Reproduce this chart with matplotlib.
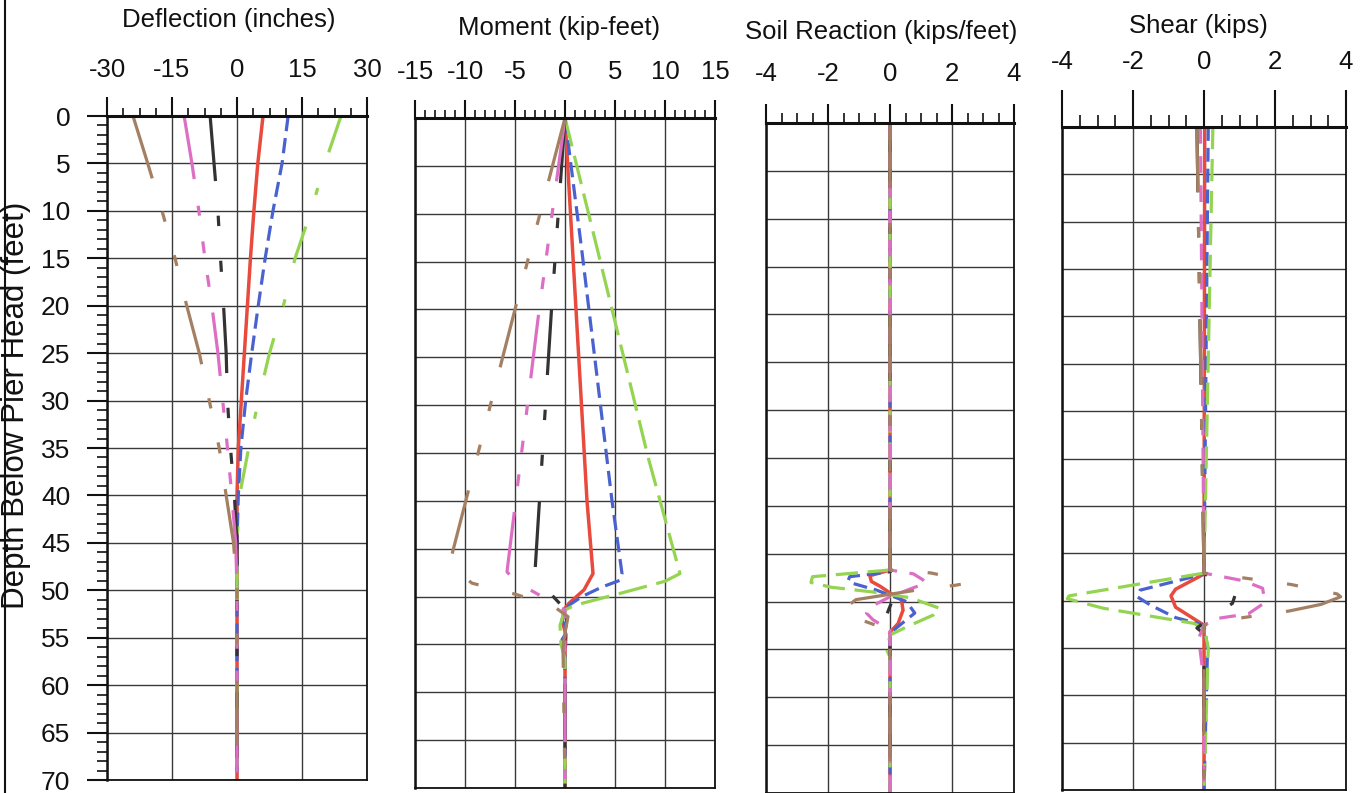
import matplotlib
matplotlib.use('Agg')
import matplotlib.pyplot as plt
from matplotlib.lines import Line2D
from matplotlib.ticker import MultipleLocator

plt.rcParams['font.family'] = ['Liberation Sans', 'DejaVu Sans']
plt.rcParams['axes.unicode_minus'] = False
plt.rcParams['lines.scale_dashes'] = False

W, H = 1367, 793

# Deflection (inches) vs depth (feet)
defl_depth = [0, 5, 10, 15, 20, 25, 30, 35, 40, 45, 50, 70]
defl_red = [6.0, 4.8, 3.9, 3.1, 2.4, 1.7, 1.0, 0.3, 0, 0, 0, 0]
defl_blue = [11.8, 10.4, 8.3, 6.5, 4.9, 3.4, 2.0, 0.9, 0.3, 0, 0, 0]
defl_green = [24.0, 20.3, 17.1, 13.4, 10.7, 7.5, 4.9, 2.7, 0.6, 0, 0, 0]
defl_black = [-6.2, -5.3, -4.4, -3.8, -3.1, -2.5, -2.2, -1.5, -0.6, 0, 0, 0]
defl_pink = [-12.2, -10.4, -8.8, -7.4, -5.8, -4.4, -3.3, -2.2, -1.2, -0.3, 0, 0]
defl_brown = [-24.0, -20.6, -17.3, -14.3, -11.6, -8.7, -6.4, -4.1, -2.5, -0.8, 0, 0]

# Moment (kip-feet)
mom_red_depth = [0, 20, 40, 47.6, 49.3, 50.7, 51.2, 52.5, 54.0, 56.0, 70]
mom_red = [0, 1.1, 2.2, 2.8, 1.9, 0.4, 0, -0.3, 0.1, 0, 0]
mom_blue_depth = [0, 14, 40, 47.6, 48.3, 49.0, 50.0, 50.9, 52.5, 53.5, 54.5, 56.0, 70]
mom_blue = [0, 1.7, 4.7, 5.7, 5.5, 3.7, 1.7, 0.4, -0.3, 0.3, -0.3, 0, 0]
mom_green_depth = [0, 14, 35.4, 47.6, 48.4, 49.7, 50.9, 51.4, 53.0, 55.0, 56.5, 70]
mom_green = [0, 3.3, 8.3, 11.5, 10.0, 5.4, 1.0, 0, -0.5, -0.4, 0, 0]
mom_black_depth = [0, 20, 47.4, 48.6, 50.2, 51.2, 53.0, 70]
mom_black = [0, -1.35, -3.0, -2.4, -1.0, -0.1, 0, 0]
mom_pink_depth = [0, 21, 47.4, 48.4, 50.0, 51.4, 53.0, 70]
mom_pink = [0, -2.7, -5.8, -5.0, -2.3, 0, 0, 0]
mom_brown_depth = [0, 20, 46.0, 47.4, 48.6, 49.8, 51.2, 52.1, 53.8, 55.3, 70]
mom_brown = [0, -5.0, -11.4, -10.8, -9.3, -4.8, -0.9, 0.3, 0, -0.2, 0]

# Soil reaction (kips/feet)
soil_red_depth = [0, 46.7, 47.3, 47.9, 48.4, 49.1, 49.8, 50.9, 52.3, 53.2, 70]
soil_red = [0, 0, -0.65, -0.6, -0.32, 0, 0.37, 0.42, 0.26, 0, 0]
soil_blue_depth = [0, 46.9, 47.4, 47.8, 48.1, 48.8, 50.0, 51.2, 51.9, 53.3, 70]
soil_blue = [0, 0, -1.3, -1.35, -1.2, -0.44, 0.53, 0.8, 0.53, 0, 0]
soil_green_depth = [0, 46.7, 47.4, 48.0, 48.5, 49.0, 49.6, 50.7, 51.4, 52.7, 53.5, 55.1, 55.8, 70]
soil_green = [0, 0, -2.5, -2.55, -1.9, -0.55, 0.65, 1.6, 1.4, 0.5, 0, -0.1, 0, 0]
soil_black_depth = [0, 48.5, 49.0, 50.5, 52.3, 53.3, 70]
soil_black = [0, 0, 0.2, 0, -0.22, 0, 0]
soil_pink_depth = [0, 46.7, 47.1, 47.7, 48.1, 48.5, 49.5, 50.5, 51.2, 51.9, 53.0, 70]
soil_pink = [0, 0, 0.75, 1.05, 1.17, 0.8, 0, -0.6, -0.76, -0.55, 0, 0]
soil_brown_depth = [0, 46.7, 47.0, 47.2, 48.1, 48.3, 48.7, 49.8, 50.8, 51.6, 51.9, 53.0, 70]
soil_brown = [0, 0, 1.3, 1.6, 2.45, 2.1, 1.05, -1.1, -1.5, -1.3, -0.95, 0, 0]

# Shear (kips)
shear_red_depth = [0, 47.2, 48.8, 49.5, 50.7, 52.6, 70]
shear_red = [0.02, 0, -0.8, -0.93, -0.8, 0, 0]
shear_blue_depth = [0, 47.2, 48.9, 49.6, 50.5, 51.8, 52.6, 55.0, 70]
shear_blue = [0.12, 0, -1.8, -1.88, -1.5, -0.8, 0, 0.1, 0]
shear_green_depth = [0, 47.1, 49.5, 49.8, 50.8, 52.4, 52.9, 55.0, 70]
shear_green = [0.25, 0, -3.8, -3.85, -2.85, -0.3, 0, 0.12, 0]
shear_black_depth = [0, 47.1, 48.5, 49.5, 50.3, 51.5, 52.9, 53.5, 70]
shear_black = [-0.2, 0, 0.5, 0.87, 0.8, 0.3, -0.2, 0, 0]
shear_pink_depth = [0, 47.1, 47.9, 48.7, 50.2, 51.4, 51.9, 52.6, 54.0, 57.0, 58.0, 70]
shear_pink = [-0.1, 0, 1.1, 1.65, 1.72, 1.25, 0.35, 0, -0.15, -0.05, 0, 0]
shear_brown_depth = [0, 47.1, 47.6, 48.3, 49.3, 49.6, 50.4, 51.1, 51.8, 52.6, 70]
shear_brown = [-0.2, 0, 1.1, 2.45, 3.75, 3.85, 3.3, 2.4, 1.1, 0, 0]

colors = {'red': '#e84a3d', 'blue': '#4a62cf', 'green': '#94d451',
          'black': '#333333', 'pink': '#dc6fc4', 'brown': '#a47f62'}
dashdotdot = (47, 25, 7.5, 25, 8, 26)
pink_pat = (46, 19.4, 7.2, 18.7, 8.6, 15.8, 8.6, 18.7)
dash_sets = [
    {'red': None, 'blue': (11, 5), 'green': (27.6, 26.9, 5.2, 23.9),
     'black': dashdotdot, 'pink': pink_pat, 'brown': dashdotdot},
    {'red': None, 'blue': (11, 5), 'green': (21, 7),
     'black': dashdotdot, 'pink': pink_pat, 'brown': dashdotdot},
    {'red': None, 'blue': (10, 5), 'green': (16, 7),
     'black': dashdotdot, 'pink': (12, 9), 'brown': dashdotdot},
    {'red': None, 'blue': (10, 5), 'green': (16, 7),
     'black': dashdotdot, 'pink': (12, 9), 'brown': dashdotdot},
]

panels = [
    dict(title='Deflection (inches)', box=(107, 116, 367, 780), xlim=(-30, 30),
         major=15, minor=3.75, majlen=13.7, minlen=6, pad=11, tx=229, ty=20,
         series={'red': (defl_depth, defl_red), 'blue': (defl_depth, defl_blue),
                 'green': (defl_depth, defl_green), 'black': (defl_depth, defl_black),
                 'pink': (defl_depth, defl_pink), 'brown': (defl_depth, defl_brown)}),
    dict(title='Moment (kip-feet)', box=(415, 118, 715, 788), xlim=(-15, 15),
         major=5, minor=1, majlen=13, minlen=6, pad=11.5, tx=559, ty=28,
         series={'red': (mom_red_depth, mom_red), 'blue': (mom_blue_depth, mom_blue),
                 'green': (mom_green_depth, mom_green), 'black': (mom_black_depth, mom_black),
                 'pink': (mom_pink_depth, mom_pink), 'brown': (mom_brown_depth, mom_brown)}),
    dict(title='Soil Reaction (kips/feet)', box=(766, 123, 1014, 793), xlim=(-4, 4),
         major=2, minor=0.5, majlen=13.7, minlen=7, pad=13, tx=881, ty=32,
         series={'red': (soil_red_depth, soil_red), 'blue': (soil_blue_depth, soil_blue),
                 'green': (soil_green_depth, soil_green), 'black': (soil_black_depth, soil_black),
                 'pink': (soil_pink_depth, soil_pink), 'brown': (soil_brown_depth, soil_brown)}),
    dict(title='Shear (kips)', box=(1062, 127, 1346, 790), xlim=(-4, 4),
         major=2, minor=0.5, majlen=26.6, minlen=8.6, pad=11.5, tx=1198, ty=26,
         series={'red': (shear_red_depth, shear_red), 'blue': (shear_blue_depth, shear_blue),
                 'green': (shear_green_depth, shear_green), 'black': (shear_black_depth, shear_black),
                 'pink': (shear_pink_depth, shear_pink), 'brown': (shear_brown_depth, shear_brown)}),
]

fig = plt.figure(figsize=(W / 100, H / 100), dpi=100)
fig.patch.set_facecolor('white')

for i, p in enumerate(panels):
    l, t, r, b = p['box']
    ax = fig.add_axes([l / W, 1 - b / H, (r - l) / W, (b - t) / H])
    ax.set_xlim(*p['xlim'])
    ax.set_ylim(70, 0)
    ax.set_axisbelow(True)

    ax.xaxis.tick_top()
    ax.xaxis.set_major_locator(MultipleLocator(p['major']))
    ax.xaxis.set_minor_locator(MultipleLocator(p['minor']))
    ax.yaxis.set_major_locator(MultipleLocator(5))
    ax.tick_params(axis='x', which='major', direction='out', length=p['majlen'],
                   width=1.5, pad=p['pad'], labelsize=18.5, colors='#111111')
    ax.tick_params(axis='x', which='minor', direction='out', length=p['minlen'],
                   width=1.2, colors='#111111')
    ax.set_xticks(ax.get_xticks())
    ax.set_xticklabels([f'{v:g}' for v in ax.get_xticks()])
    ax.set_xlim(*p['xlim'])

    if i == 0:
        ax.yaxis.set_minor_locator(MultipleLocator(1))
        ax.tick_params(axis='y', which='major', direction='out', length=14.4,
                       width=1.5, pad=12, labelsize=19, colors='#111111')
        ax.tick_params(axis='y', which='minor', direction='out', length=7.2,
                       width=1.2, colors='#111111')
    else:
        ax.tick_params(axis='y', which='both', left=False, labelleft=False)

    ax.grid(True, which='major', color='#3a3a3a', linewidth=1.0)
    for side, lw in (('top', 2.2), ('left', 1.8), ('right', 1.3), ('bottom', 1.3)):
        ax.spines[side].set_linewidth(lw)
        ax.spines[side].set_color('#111111')

    for name in ['red', 'blue', 'green', 'black', 'pink', 'brown']:
        depth, vals = p['series'][name]
        dash = dash_sets[i][name]
        if dash is None:
            ax.plot(vals, depth, color=colors[name], lw=2.5, solid_capstyle='round')
        else:
            ax.plot(vals, depth, color=colors[name], lw=2.3, dashes=dash,
                    dash_capstyle='butt')

    fig.text(p['tx'] / W, 1 - p['ty'] / H, p['title'], ha='center', va='center',
             fontsize=18.5, color='#111111')

fig.text(16 / W, 1 - 405 / H, 'Depth Below Pier Head (feet)', rotation=90,
         ha='center', va='center', fontsize=22.5, color='#111111')

# border of the sheet on the left
fig.add_artist(Line2D([5 / W, 5 / W], [0, 1], color='#111111', lw=1.5))

fig.savefig('out.png', dpi=100, facecolor='white')
